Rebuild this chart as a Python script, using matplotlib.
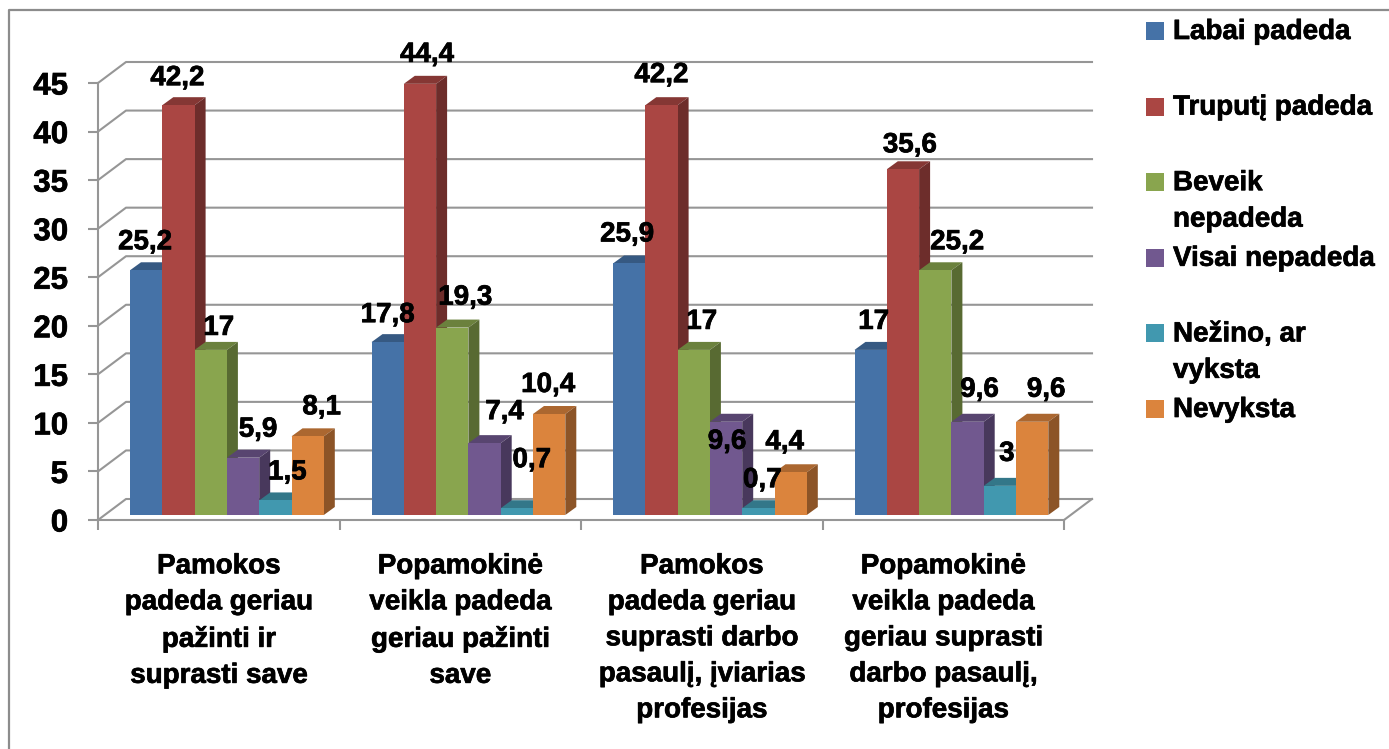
import matplotlib
matplotlib.use('Agg')
import matplotlib.pyplot as plt
import matplotlib.patheffects as pe
from matplotlib.lines import Line2D
from matplotlib.patches import Polygon, Rectangle
from matplotlib.text import Text

# ============ data ============
CATEGORIES = [
    "Pamokos\npadeda geriau\npažinti ir\nsuprasti save",
    "Popamokinė\nveikla padeda\ngeriau pažinti\nsave",
    "Pamokos\npadeda geriau\nsuprasti darbo\npasaulį, įviarias\nprofesijas",
    "Popamokinė\nveikla padeda\ngeriau suprasti\ndarbo pasaulį,\nprofesijas",
]
SERIES_NAMES = ["Labai padeda", "Truputį padeda", "Beveik\nnepadeda", "Visai nepadeda",
                "Nežino, ar\nvyksta", "Nevyksta"]
LABAI = [25.2, 17.8, 25.9, 17]
TRUPUTI = [42.2, 44.4, 42.2, 35.6]
BEVEIK = [17, 19.3, 17, 25.2]
VISAI = [5.9, 7.4, 9.6, 9.6]
NEZINO = [1.5, 0.7, 0.7, 3]
NEVYKSTA = [8.1, 10.4, 4.4, 9.6]
SERIES = [LABAI, TRUPUTI, BEVEIK, VISAI, NEZINO, NEVYKSTA]
Y_TICKS = [0, 5, 10, 15, 20, 25, 30, 35, 40, 45]

# ============ style ============
COLORS = ['#4572A7', '#AA4643', '#89A54E', '#71588F', '#4198AF', '#DB843D']
GRID = '#969696'
W, H = 1389, 749
LEFT, RIGHT, BOTTOM, TOP = 98, 1064, 520, 83  # front plane, pixels
PX_X = 4 / (RIGHT - LEFT)
PX_Y = 45 / (BOTTOM - TOP)
DEPTH_X, DEPTH_Y = 28 * PX_X, 21 * PX_Y  # back wall
BAR_X, BAR_W = 32 * PX_X, 32.3 * PX_X
BAR_Y = 5 * PX_Y
SIDE_X, SIDE_Y = 11 * PX_X, 8 * PX_Y

# label offsets from the top centre of each bar, in pixels (one row per category)
LABEL_DX = [[-1, -1, 8, 15, 12, 14], [0, 7, 13, 20, 15, -1], [-2, 0, 8, 1, 4, -6], [3, 7, 22, 12, 7, 14]]
LABEL_DY = [[-28, -27, -22, -28, -28, -29], [-27, -29, -30, -31, -48, -29],
            [-29, -30, -28, 20, -28, -30], [-28, -24, -28, -32, -32, -32]]

plt.rcParams['font.family'] = ['Liberation Sans', 'DejaVu Sans']
plt.rcParams['font.weight'] = 'bold'


def shade(color, k):
    rgb = matplotlib.colors.to_rgb(color)
    return tuple(c * k for c in rgb)


fig = plt.figure(figsize=(W / 100, H / 100), dpi=100)
ax = fig.add_axes([LEFT / W, 1 - BOTTOM / H, (RIGHT - LEFT) / W, (BOTTOM - TOP) / H])
ax.set_xlim(0, 4)
ax.set_ylim(0, 45)

for name in ['top', 'right']:
    ax.spines[name].set_visible(False)
for name in ['left', 'bottom']:
    ax.spines[name].set_color(GRID)
    ax.spines[name].set_linewidth(1.5)

ax.set_yticks(Y_TICKS)
ax.tick_params(axis='y', length=7.5, width=1.5, color=GRID, labelsize=22.5, pad=14)
ax.set_xticks([i + 0.5 for i in range(4)])
ax.set_xticklabels(CATEGORIES, fontsize=20, linespacing=1.5, va='top')
ax.set_xticks(range(5), minor=True)
ax.tick_params(axis='x', which='major', length=0, pad=24)
ax.tick_params(axis='x', which='minor', length=7.5, width=1.5, color=GRID)

# back wall grid and floor
for v in Y_TICKS:
    ax.add_line(Line2D([0, DEPTH_X, 4 + DEPTH_X], [v, v + DEPTH_Y, v + DEPTH_Y],
                       color=GRID, lw=1.5, clip_on=False, zorder=1))
ax.add_line(Line2D([4, 4 + DEPTH_X], [0, DEPTH_Y], color=GRID, lw=1.5, clip_on=False, zorder=1))

# bars, left to right so each one hides the side of the previous one
order = 2
for c in range(len(CATEGORIES)):
    for s, values in enumerate(SERIES):
        x0 = c + BAR_X + s * BAR_W
        x1 = x0 + BAR_W
        top = values[c] + BAR_Y
        ax.bar(x0, values[c], BAR_W, bottom=BAR_Y, align='edge', color=COLORS[s],
               clip_on=False, zorder=order + 0.2)
        ax.add_patch(Polygon([(x0, top), (x1, top), (x1 + SIDE_X, top + SIDE_Y), (x0 + SIDE_X, top + SIDE_Y)],
                             closed=True, fc=shade(COLORS[s], 0.78), ec='none', clip_on=False, zorder=order))
        ax.add_patch(Polygon([(x1, BAR_Y), (x1 + SIDE_X, BAR_Y + SIDE_Y), (x1 + SIDE_X, top + SIDE_Y), (x1, top)],
                             closed=True, fc=shade(COLORS[s], 0.64), ec='none', clip_on=False, zorder=order))
        order += 1

# data labels on top of everything
for c in range(len(CATEGORIES)):
    for s, values in enumerate(SERIES):
        xc = c + BAR_X + (s + 0.5) * BAR_W + LABEL_DX[c][s] * PX_X
        yc = values[c] + BAR_Y - LABEL_DY[c][s] * PX_Y
        ax.text(xc, yc, f"{values[c]:g}".replace('.', ','), ha='center', va='center',
                fontsize=20, color='black', clip_on=False, zorder=100)

# legend
for i, name in enumerate(SERIES_NAMES):
    yc = 31 + i * 75.6
    fig.add_artist(Rectangle((1146 / W, 1 - (yc + 9) / H), 18 / W, 18 / H, fc=COLORS[i], ec='none'))
    fig.text(1173 / W, 1 - (yc - 12) / H, name, ha='left', va='top', fontsize=20, linespacing=1.52)

# chart frame: only the top and left edges are visible
fig.add_artist(Line2D([9 / W, 9 / W, 1], [0, 1 - 10 / H, 1 - 10 / H], color='#8c8c8c', lw=1.6))

# the reference text is set heavier than plain bold
for t in fig.findobj(Text):
    t.set_path_effects([pe.withStroke(linewidth=0.5, foreground='black')])

plt.savefig('out.png', dpi=100)
plt.close()
